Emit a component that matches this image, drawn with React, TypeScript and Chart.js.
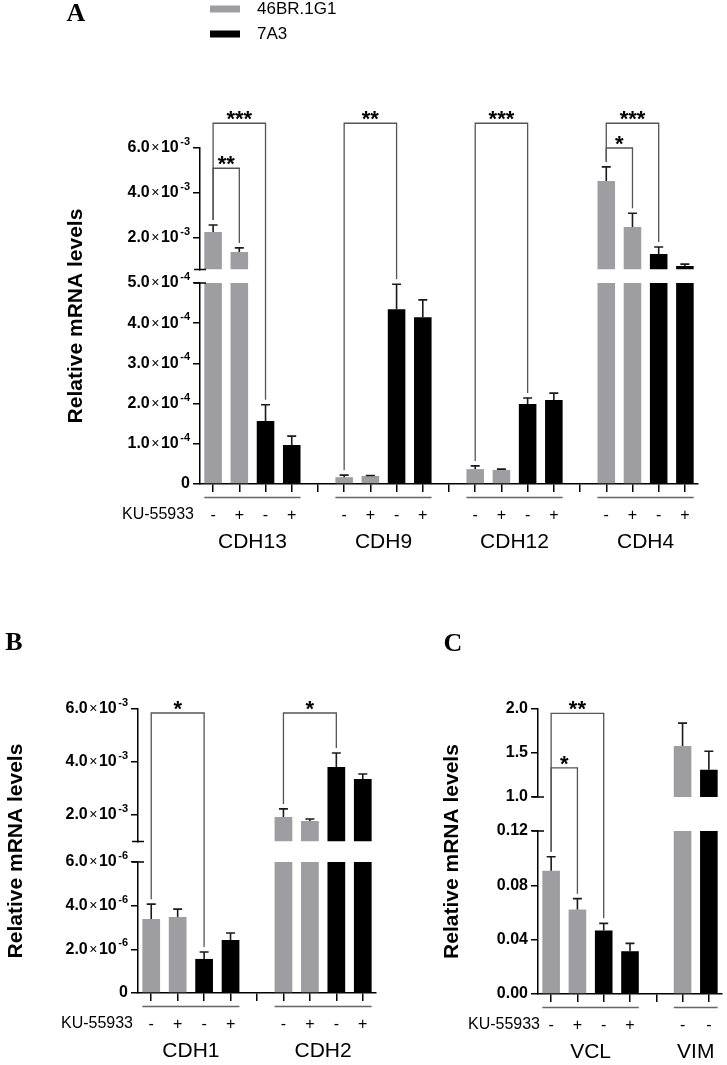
import React, { useEffect, useRef } from 'react';
import { Chart, registerables } from 'chart.js';
Chart.register(...registerables);

const FONT = "'Liberation Sans', Arial, Helvetica, sans-serif";
const SERIF = "'Liberation Serif', 'Times New Roman', serif";
const GRAY = '#9e9ea2';
const BLACK = '#000000';

const CELL_LINES = ['46BR.1G1', '7A3'];
const TREATMENT = ['-', '+', '-', '+'];
const CELLS = ['46BR.1G1', '46BR.1G1', '7A3', '7A3'];

// ---------- Panel A ----------
const CDH13_MEAN = [2.27e-3, 1.38e-3, 1.57e-4, 0.97e-4];
const CDH13_ERR = [0.31e-3, 0.18e-3, 0.4e-4, 0.22e-4];
const CDH9_MEAN = [0.17e-4, 0.2e-4, 4.35e-4, 4.15e-4];
const CDH9_ERR = [0.05e-4, 0.01e-4, 0.62e-4, 0.43e-4];
const CDH12_MEAN = [0.37e-4, 0.35e-4, 1.99e-4, 2.09e-4];
const CDH12_ERR = [0.08e-4, 0.02e-4, 0.15e-4, 0.17e-4];
const CDH4_MEAN = [4.53e-3, 2.49e-3, 1.29e-3, 0.76e-3];
const CDH4_ERR = [0.63e-3, 0.61e-3, 0.31e-3, 0.08e-3];
const A_TOP_RANGE = [0.6e-3, 6e-3];
const A_BOTTOM_RANGE = [0, 5e-4];
const A_TOP_TICKS = [2e-3, 4e-3, 6e-3];
const A_TOP_LABELS = ['2.0×10⁻³', '4.0×10⁻³', '6.0×10⁻³'];
const A_BOTTOM_TICKS = [0, 1e-4, 2e-4, 3e-4, 4e-4, 5e-4];
const A_BOTTOM_LABELS = ['0', '1.0×10⁻⁴', '2.0×10⁻⁴', '3.0×10⁻⁴', '4.0×10⁻⁴', '5.0×10⁻⁴'];
const A_BR_GENE = [0, 0, 1, 2, 3, 3];
const A_BR_FROM = [0, 0, 0, 0, 0, 0];
const A_BR_TO = [2, 1, 2, 2, 2, 1];
const A_BR_LEVEL = [7.1e-3, 5.1e-3, 7.1e-3, 7.1e-3, 7.1e-3, 6.0e-3];
const A_BR_STARS = ['***', '**', '**', '***', '***', '*'];

// ---------- Panel B ----------
const CDH1_MEAN = [3.39e-6, 3.48e-6, 1.56e-6, 2.43e-6];
const CDH1_ERR = [0.68e-6, 0.36e-6, 0.32e-6, 0.32e-6];
const CDH2_MEAN = [1.92e-3, 1.77e-3, 3.81e-3, 3.36e-3];
const CDH2_ERR = [0.31e-3, 0.08e-3, 0.53e-3, 0.19e-3];
const B_TOP_RANGE = [1e-3, 6e-3];
const B_BOTTOM_RANGE = [0, 6e-6];
const B_TOP_TICKS = [2e-3, 4e-3, 6e-3];
const B_TOP_LABELS = ['2.0×10⁻³', '4.0×10⁻³', '6.0×10⁻³'];
const B_BOTTOM_TICKS = [0, 2e-6, 4e-6, 6e-6];
const B_BOTTOM_LABELS = ['0', '2.0×10⁻⁶', '4.0×10⁻⁶', '6.0×10⁻⁶'];
const B_BR_GENE = [0, 1];
const B_BR_FROM = [0, 0];
const B_BR_TO = [2, 2];
const B_BR_LEVEL = [5.85e-3, 5.85e-3];
const B_BR_STARS = ['*', '*'];

// ---------- Panel C ----------
const VCL_MEAN = [0.0907, 0.0622, 0.0468, 0.0315];
const VCL_ERR = [0.0103, 0.008, 0.0052, 0.0058];
const VIM_MEAN = [1.58, 1.31];
const VIM_ERR = [0.26, 0.21];
const VIM_TREATMENT = ['-', '-'];
const VIM_CELLS = ['46BR.1G1', '7A3'];
const C_TOP_RANGE = [1.0, 2.0];
const C_BOTTOM_RANGE = [0, 0.12];
const C_TOP_TICKS = [1.0, 1.5, 2.0];
const C_TOP_LABELS = ['1.0', '1.5', '2.0'];
const C_BOTTOM_TICKS = [0, 0.04, 0.08, 0.12];
const C_BOTTOM_LABELS = ['0.00', '0.04', '0.08', '0.12'];
const C_BR_GENE = [0, 0];
const C_BR_FROM = [0, 0];
const C_BR_TO = [2, 1];
const C_BR_LEVEL = [1.95, 1.33];
const C_BR_STARS = ['**', '*'];

type Gene = { name: string; means: number[]; errs: number[]; treat: string[]; cells: string[] };
type Spec = {
  x: number; y: number; w: number; h: number;
  area: { l: number; r: number; t: number; b: number };
  split: [number, number];
  topRange: number[]; bottomRange: number[];
  topTicks: number[]; topLabels: string[];
  bottomTicks: number[]; bottomLabels: string[];
  genes: Gene[];
  br: { gene: number[]; from: number[]; to: number[]; level: number[]; stars: string[] };
  titleX: number;
  letter: string; letterX: number; letterY: number;
  kuRight: number;
  legend: boolean;
};

const SPECS: Spec[] = [
  {
    x: 0, y: 0, w: 727, h: 600,
    area: { l: 200, r: 698, t: 148, b: 484 }, split: [269.5, 283],
    topRange: A_TOP_RANGE, bottomRange: A_BOTTOM_RANGE,
    topTicks: A_TOP_TICKS, topLabels: A_TOP_LABELS,
    bottomTicks: A_BOTTOM_TICKS, bottomLabels: A_BOTTOM_LABELS,
    genes: [
      { name: 'CDH13', means: CDH13_MEAN, errs: CDH13_ERR, treat: TREATMENT, cells: CELLS },
      { name: 'CDH9', means: CDH9_MEAN, errs: CDH9_ERR, treat: TREATMENT, cells: CELLS },
      { name: 'CDH12', means: CDH12_MEAN, errs: CDH12_ERR, treat: TREATMENT, cells: CELLS },
      { name: 'CDH4', means: CDH4_MEAN, errs: CDH4_ERR, treat: TREATMENT, cells: CELLS },
    ],
    br: { gene: A_BR_GENE, from: A_BR_FROM, to: A_BR_TO, level: A_BR_LEVEL, stars: A_BR_STARS },
    titleX: 76, letter: 'A', letterX: 76, letterY: 14, kuRight: 194, legend: true,
  },
  {
    x: 0, y: 600, w: 430, h: 465,
    area: { l: 138, r: 376, t: 109, b: 393 }, split: [241.5, 262],
    topRange: B_TOP_RANGE, bottomRange: B_BOTTOM_RANGE,
    topTicks: B_TOP_TICKS, topLabels: B_TOP_LABELS,
    bottomTicks: B_BOTTOM_TICKS, bottomLabels: B_BOTTOM_LABELS,
    genes: [
      { name: 'CDH1', means: CDH1_MEAN, errs: CDH1_ERR, treat: TREATMENT, cells: CELLS },
      { name: 'CDH2', means: CDH2_MEAN, errs: CDH2_ERR, treat: TREATMENT, cells: CELLS },
    ],
    br: { gene: B_BR_GENE, from: B_BR_FROM, to: B_BR_TO, level: B_BR_LEVEL, stars: B_BR_STARS },
    titleX: 16, letter: 'B', letterX: 14, letterY: 43, kuRight: 133, legend: false,
  },
  {
    x: 430, y: 600, w: 297, h: 465,
    area: { l: 108, r: 292, t: 109, b: 394 }, split: [197, 231],
    topRange: C_TOP_RANGE, bottomRange: C_BOTTOM_RANGE,
    topTicks: C_TOP_TICKS, topLabels: C_TOP_LABELS,
    bottomTicks: C_BOTTOM_TICKS, bottomLabels: C_BOTTOM_LABELS,
    genes: [
      { name: 'VCL', means: VCL_MEAN, errs: VCL_ERR, treat: TREATMENT, cells: CELLS },
      { name: 'VIM', means: VIM_MEAN, errs: VIM_ERR, treat: VIM_TREATMENT, cells: VIM_CELLS },
    ],
    br: { gene: C_BR_GENE, from: C_BR_FROM, to: C_BR_TO, level: C_BR_LEVEL, stars: C_BR_STARS },
    titleX: 22, letter: 'C', letterX: 23, letterY: 44, kuRight: 110, legend: false,
  },
];

const SUP: Record<string, string> = {
  '⁻': '-', '⁰': '0', '¹': '1', '²': '2', '³': '3', '⁴': '4', '⁵': '5', '⁶': '6', '⁷': '7', '⁸': '8', '⁹': '9',
};

function buildSlots(genes: Gene[]) {
  const labels: string[] = [];
  const means: (number | null)[] = [];
  const errs: (number | null)[] = [];
  const colors: string[] = [];
  const groups: number[][] = [];
  genes.forEach((g, gi) => {
    if (gi > 0) {
      labels.push('');
      means.push(null);
      errs.push(null);
      colors.push('rgba(0,0,0,0)');
    }
    const idx: number[] = [];
    g.means.forEach((m, i) => {
      idx.push(labels.length);
      labels.push(g.treat[i]);
      means.push(m);
      errs.push(g.errs[i]);
      colors.push(g.cells[i] === CELL_LINES[0] ? GRAY : BLACK);
    });
    groups.push(idx);
  });
  return { labels, means, errs, colors, groups };
}

// draws a tick label like "6.0×10⁻³" right-aligned at (xr, y)
function drawSciLabel(ctx: CanvasRenderingContext2D, label: string, xr: number, y: number) {
  const parts = label.split('×10');
  const mainFont = `bold 16px ${FONT}`;
  const timesFont = `14px ${FONT}`;
  const supFont = `bold 11px ${FONT}`;
  ctx.textBaseline = 'middle';
  ctx.textAlign = 'left';
  if (parts.length < 2) {
    ctx.font = mainFont;
    ctx.textAlign = 'right';
    ctx.fillText(label, xr, y);
    return;
  }
  const mant = parts[0];
  const exp = parts[1].split('').map((c) => SUP[c] ?? c).join('');
  ctx.font = mainFont;
  const wM = ctx.measureText(mant).width;
  const w10 = ctx.measureText('10').width;
  ctx.font = timesFont;
  const wX = ctx.measureText('×').width;
  ctx.font = supFont;
  const wE = ctx.measureText(exp).width;
  const gap = 1.5;
  const total = wM + gap + wX + gap + w10 + gap + wE;
  let x = xr - total;
  ctx.font = mainFont;
  ctx.fillText(mant, x, y);
  x += wM + gap;
  ctx.font = timesFont;
  ctx.fillText('×', x, y + 0.5);
  x += wX + gap;
  ctx.font = mainFont;
  ctx.fillText('10', x, y);
  x += w10 + gap;
  ctx.font = supFont;
  ctx.fillText(exp, x, y - 6);
}

function makeConfig(spec: Spec): any {
  const { labels, means, errs, colors, groups } = buildSlots(spec.genes);
  const bottomData = means.map((m) => (m == null ? null : Math.min(m, spec.bottomRange[1])));
  const topData = means.map((m) => (m == null || m <= spec.topRange[0] ? null : [spec.topRange[0], m]));
  const A = spec.area;
  const BAR_PCT = 0.67;

  const overlay = {
    id: 'overlay',
    afterLayout(chart: any) {
      const yt = chart.scales.yt;
      const yb = chart.scales.yb;
      yt.top = A.t; yt.bottom = spec.split[0]; yt.height = spec.split[0] - A.t; yt.configure();
      yb.top = spec.split[1]; yb.bottom = A.b; yb.height = A.b - spec.split[1]; yb.configure();
    },
    afterDatasetsDraw(chart: any) {
      const ctx = chart.ctx;
      const xs = chart.scales.x;
      const yt = chart.scales.yt;
      const yb = chart.scales.yb;
      const sc = (m: number) => (m > spec.bottomRange[1] ? yt : yb);
      const errTop = (i: number) => sc(means[i] as number).getPixelForValue((means[i] as number) + (errs[i] as number));
      ctx.save();
      // error bars
      ctx.strokeStyle = '#1a1a1a';
      ctx.lineWidth = 1.6;
      means.forEach((m, i) => {
        if (m == null) return;
        const x = xs.getPixelForValue(i);
        const y0 = sc(m).getPixelForValue(m);
        const y1 = errTop(i);
        ctx.beginPath();
        ctx.moveTo(x, y0);
        ctx.lineTo(x, y1);
        ctx.moveTo(x - 4.5, y1);
        ctx.lineTo(x + 4.5, y1);
        ctx.stroke();
      });
      // brackets
      ctx.strokeStyle = '#555';
      ctx.lineWidth = 1.3;
      ctx.fillStyle = '#000';
      ctx.font = `bold 22px ${FONT}`;
      ctx.textAlign = 'center';
      ctx.textBaseline = 'alphabetic';
      spec.br.gene.forEach((g, k) => {
        const i1 = groups[g][spec.br.from[k]];
        const i2 = groups[g][spec.br.to[k]];
        const x1 = xs.getPixelForValue(i1);
        const x2 = xs.getPixelForValue(i2);
        const y = yt.getPixelForValue(spec.br.level[k]);
        ctx.beginPath();
        ctx.moveTo(x1, errTop(i1) - 5);
        ctx.lineTo(x1, y);
        ctx.lineTo(x2, y);
        ctx.lineTo(x2, errTop(i2) - 5);
        ctx.stroke();
        ctx.fillText(spec.br.stars[k], (x1 + x2) / 2, y + 3);
      });
      ctx.restore();
    },
    afterDraw(chart: any) {
      const ctx = chart.ctx;
      const xs = chart.scales.x;
      const yt = chart.scales.yt;
      const yb = chart.scales.yb;
      const slot = xs.getPixelForValue(1) - xs.getPixelForValue(0);
      const bw = slot * BAR_PCT;
      ctx.save();
      // y tick labels
      ctx.fillStyle = '#000';
      spec.topTicks.forEach((v, k) => drawSciLabel(ctx, spec.topLabels[k], A.l - 10, yt.getPixelForValue(v)));
      spec.bottomTicks.forEach((v, k) => drawSciLabel(ctx, spec.bottomLabels[k], A.l - 10, yb.getPixelForValue(v)));
      // axis break marks
      ctx.strokeStyle = '#000';
      ctx.lineWidth = 1.5;
      [yt.bottom, yb.top].forEach((y: number) => {
        ctx.beginPath();
        ctx.moveTo(A.l - 6, y);
        ctx.lineTo(A.l + 6, y);
        ctx.stroke();
      });
      // group lines and names
      ctx.fillStyle = '#000';
      groups.forEach((idx, gi) => {
        const xa = xs.getPixelForValue(idx[0]) - bw / 2;
        const xb = xs.getPixelForValue(idx[idx.length - 1]) + bw / 2;
        ctx.strokeStyle = '#666';
        ctx.lineWidth = 1.5;
        ctx.beginPath();
        ctx.moveTo(xa, A.b + 13.5);
        ctx.lineTo(xb, A.b + 13.5);
        ctx.stroke();
        ctx.font = `21px ${FONT}`;
        ctx.textAlign = 'center';
        ctx.textBaseline = 'middle';
        ctx.fillText(spec.genes[gi].name, (xa + xb) / 2, A.b + 58);
      });
      // KU label
      ctx.font = `16px ${FONT}`;
      ctx.textAlign = 'right';
      ctx.textBaseline = 'middle';
      ctx.fillText('KU-55933', spec.kuRight, A.b + 31);
      // y title
      ctx.save();
      ctx.translate(spec.titleX, (A.t + A.b) / 2);
      ctx.rotate(-Math.PI / 2);
      ctx.font = `bold 21px ${FONT}`;
      ctx.textAlign = 'center';
      ctx.textBaseline = 'middle';
      ctx.fillText('Relative mRNA levels', 0, 0);
      ctx.restore();
      // panel letter
      ctx.font = `bold 26px ${SERIF}`;
      ctx.textAlign = 'center';
      ctx.textBaseline = 'middle';
      ctx.fillText(spec.letter, spec.letterX, spec.letterY);
      // legend
      if (spec.legend) {
        const colorsL = [GRAY, BLACK];
        CELL_LINES.forEach((name, k) => {
          const yy = 9 + k * 25;
          ctx.fillStyle = colorsL[k];
          ctx.fillRect(210, yy - 3.5, 30, 7);
          ctx.fillStyle = '#000';
          ctx.font = `17px ${FONT}`;
          ctx.textAlign = 'left';
          ctx.textBaseline = 'middle';
          ctx.fillText(name, 257, yy);
        });
      }
      ctx.restore();
    },
  };

  const yScale = (range: number[], ticks: number[], weight: number) => ({
    type: 'linear',
    position: 'left',
    stack: 'y',
    weight,
    min: range[0],
    max: range[1],
    afterBuildTicks: (s: any) => {
      s.ticks = ticks.map((v) => ({ value: v }));
    },
    afterFit: (s: any) => {
      s.width = A.l;
    },
    grid: { drawOnChartArea: false, tickLength: 7, color: '#000', lineWidth: 1.5 },
    border: { display: true, color: '#000', width: 1.5 },
    ticks: { display: false },
  });

  return {
    type: 'bar',
    data: {
      labels,
      datasets: [
        {
          data: bottomData, yAxisID: 'yb', backgroundColor: colors, borderWidth: 0,
          grouped: false, categoryPercentage: 1, barPercentage: BAR_PCT,
        },
        {
          data: topData, yAxisID: 'yt', backgroundColor: colors, borderWidth: 0,
          grouped: false, categoryPercentage: 1, barPercentage: BAR_PCT,
        },
      ],
    },
    options: {
      responsive: false,
      animation: false,
      devicePixelRatio: 1,
      events: [],
      layout: { padding: { left: 0, top: A.t, right: spec.w - A.r, bottom: 0 } },
      plugins: { legend: { display: false }, tooltip: { enabled: false } },
      scales: {
        x: {
          type: 'category',
          offset: true,
          grid: { offset: false, drawOnChartArea: false, tickLength: 8, color: '#000', lineWidth: 1.5 },
          border: { display: true, color: '#000', width: 1.5 },
          ticks: { color: '#000', padding: 14, maxRotation: 0, autoSkip: false, font: { family: FONT, size: 16 } },
          afterFit: (s: any) => {
            s.height = spec.h - A.b;
          },
        },
        yt: yScale(spec.topRange, spec.topTicks, 2),
        yb: yScale(spec.bottomRange, spec.bottomTicks, 1),
      },
    },
    plugins: [overlay],
  };
}

function Panel({ spec }: { spec: Spec }) {
  const ref = useRef<HTMLCanvasElement>(null);
  useEffect(() => {
    const chart = new Chart(ref.current as HTMLCanvasElement, makeConfig(spec));
    return () => chart.destroy();
  }, [spec]);
  return (
    <canvas
      ref={ref}
      width={spec.w}
      height={spec.h}
      style={{ position: 'absolute', left: spec.x, top: spec.y, width: spec.w, height: spec.h }}
    />
  );
}

export default function App() {
  return (
    <div style={{ position: 'absolute', left: 0, top: 0, width: 727, height: 1065, background: '#fff', overflow: 'hidden' }}>
      {SPECS.map((s, i) => (
        <Panel key={i} spec={s} />
      ))}
    </div>
  );
}
